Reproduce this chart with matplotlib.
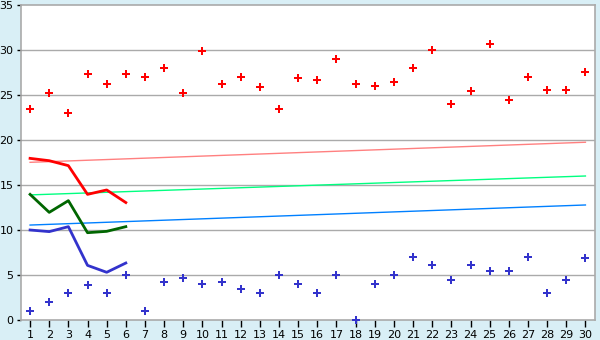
import numpy as np
import matplotlib.pyplot as plt

days = np.arange(1, 31)

red_points = [23.4, 25.2, 23.0, 27.3, 26.2, 27.3, 27.0, 28.0, 25.2, 29.85,
              26.2, 27.0, 25.85, 23.5, 26.85, 26.7, 28.95, 26.2, 25.95, 26.4,
              28.0, 29.95, 23.95, 25.5, 30.7, 24.5, 27.0, 25.6, 25.6, 27.6]
blue_points = [1.0, 2.0, 3.0, 3.85, 3.0, 5.0, 1.0, 4.2, 4.65, 4.0,
               4.2, 3.5, 3.0, 5.0, 4.0, 3.0, 5.0, 0.0, 4.0, 5.0,
               7.0, 6.1, 4.5, 6.1, 5.4, 5.4, 7.0, 3.05, 4.5, 6.85]

line_days = [1, 2, 3, 4, 5, 6]
red_line = [17.96, 17.7, 17.15, 13.96, 14.45, 13.05]
green_line = [13.96, 11.96, 13.26, 9.7, 9.85, 10.37]
blue_line = [10.0, 9.82, 10.37, 6.07, 5.3, 6.33]

trend_days = [1, 30]
red_trend = [17.52, 19.75]
green_trend = [13.9, 16.0]
blue_trend = [10.55, 12.78]

bg = '#d9eff6'
fig = plt.figure(figsize=(6, 3.4), dpi=100, facecolor=bg)
ax = fig.add_axes([20.5 / 600, 20 / 340, 574.5 / 600, 315 / 340])
ax.set_facecolor('white')

# horizontal grid
for y in range(5, 35, 5):
    ax.axhline(y, color='#aaaaaa', lw=1, zorder=1)

# trend lines
ax.plot(trend_days, red_trend, color='#ff8080', lw=1, zorder=2)
ax.plot(trend_days, green_trend, color='#00ff80', lw=1, zorder=2)
ax.plot(trend_days, blue_trend, color='#0080ff', lw=1, zorder=2)

ax.plot(line_days, red_line, color='#ff0000', lw=2, zorder=3)
ax.plot(line_days, green_line, color='#006600', lw=2, zorder=3)
ax.plot(line_days, blue_line, color='#3333cc', lw=2, zorder=3)

ax.plot(days, red_points, ls='none', marker='P', ms=6, mew=0,
        color='#ff0000', zorder=4, clip_on=False)
ax.plot(days, blue_points, ls='none', marker='P', ms=6, mew=0,
        color='#3333cc', zorder=4, clip_on=False)

ax.set_xlim(0.5, 30.5)
ax.set_ylim(0, 35)
ax.set_xticks(days)
ax.set_yticks(range(0, 40, 5))
ax.tick_params(axis='x', length=5, width=1, color='black', labelsize=8, pad=2)
ax.tick_params(axis='y', length=3, width=1, color='black', labelsize=8, pad=2)
for s in ax.spines.values():
    s.set_color('#aaaaaa')
    s.set_linewidth(1.2)

fig.savefig('out.png', dpi=100, facecolor=bg)
